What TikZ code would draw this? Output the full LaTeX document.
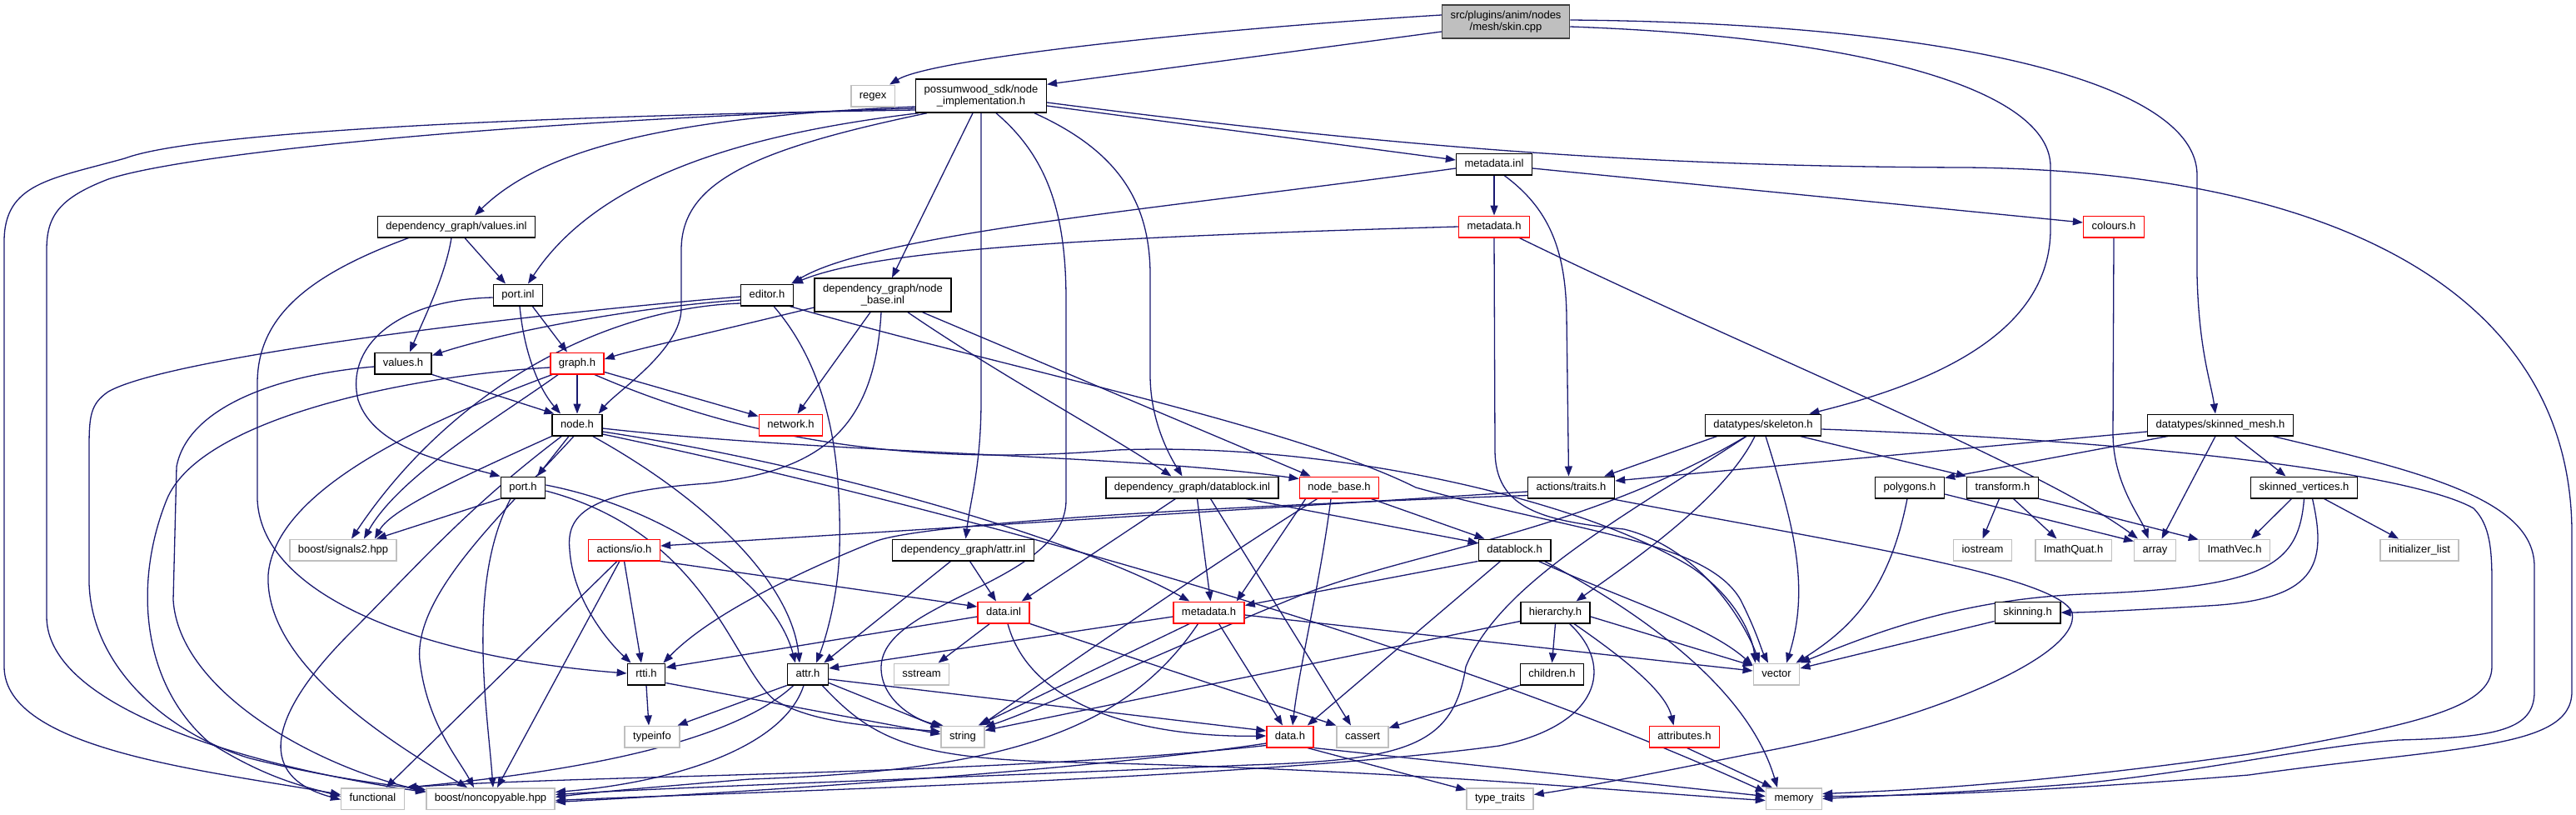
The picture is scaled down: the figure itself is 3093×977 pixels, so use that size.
\documentclass[tikz,border=0pt]{standalone}
\usepackage{fontspec}
\newfontfamily\dfont{Liberation Sans}
\usetikzlibrary{arrows.meta,calc}
\definecolor{edgec}{HTML}{191970}
\definecolor{grayb}{HTML}{BFBFBF}
\definecolor{skinb}{HTML}{404040}
\pgfdeclarelayer{bg}
\pgfsetlayers{bg,main}
\begin{document}
\begin{tikzpicture}[x=1pt,y=1pt,
 nb/.style={rectangle, fill=white, line width=1.5pt, inner xsep=10pt, inner ysep=0pt, font=\dfont\fontsize{13pt}{14.4pt}\selectfont},
 one/.style={nb, minimum height=25.5pt, text height=9.6pt, text depth=2.8pt},
 two/.style={nb, minimum height=40pt, align=center},
 bk/.style={one, draw=black},
 rd/.style={one, draw=red},
 gr/.style={one, draw=grayb},
 bk2/.style={two, draw=black},
 e/.style={draw=edgec, line width=1.3pt, -{Triangle[length=12pt,width=9pt]}}
]
\useasboundingbox (0,0) rectangle (3093,-977);
\node[two, draw=skinb, fill=grayb] (skin) at (1808,-26) {src/plugins/anim/nodes\\/mesh/skin.cpp};
\node[gr] (regex) at (1048,-115) {regex};
\node[bk2] (pw) at (1178,-115) {possumwood\_sdk/node\\\_implementation.h};
\node[bk] (mdinl) at (1794,-197) {metadata.inl};
\node[rd] (mdh) at (1794,-272) {metadata.h};
\node[rd] (colours) at (2538,-272) {colours.h};
\node[bk] (valinl) at (548,-272) {dependency\_graph/values.inl};
\node[bk] (portinl) at (622,-354) {port.inl};
\node[bk] (editor) at (921,-354) {editor.h};
\node[bk2] (nbinl) at (1060,-354) {dependency\_graph/node\\\_base.inl};
\node[bk] (valh) at (484,-436) {values.h};
\node[rd] (graph) at (693,-436) {graph.h};
\node[rd] (network) at (949.5,-510) {network.h};
\node[bk] (node) at (693,-510) {node.h};
\node[bk] (skel) at (2117,-510) {datatypes/skeleton.h};
\node[bk] (smesh) at (2666,-510) {datatypes/skinned\_mesh.h};
\node[bk] (porth) at (628,-585) {port.h};
\node[bk] (dbinl) at (1431.5,-585) {dependency\_graph/datablock.inl};
\node[rd] (nbh) at (1608,-585) {node\_base.h};
\node[bk] (traits) at (1886.5,-585) {actions/traits.h};
\node[bk] (poly) at (2293,-585) {polygons.h};
\node[bk] (transf) at (2404.5,-585) {transform.h};
\node[bk] (svert) at (2766.5,-585) {skinned\_vertices.h};
\node[gr] (sig) at (412,-660) {boost/signals2.hpp};
\node[rd] (io) at (749.5,-660) {actions/io.h};
\node[bk] (attrinl) at (1156.5,-660) {dependency\_graph/attr.inl};
\node[bk] (dbh) at (1818.5,-660) {datablock.h};
\node[gr] (iostream) at (2380.5,-660) {iostream};
\node[gr] (quat) at (2489.5,-660) {ImathQuat.h};
\node[gr] (array) at (2587.5,-660) {array};
\node[gr] (vec) at (2683,-660) {ImathVec.h};
\node[gr] (initl) at (2905,-660) {initializer\_list};
\node[rd] (datainl) at (1205,-735) {data.inl};
\node[rd] (mdh2) at (1451.5,-735) {metadata.h};
\node[bk] (hier) at (1867.5,-735) {hierarchy.h};
\node[bk] (skinning) at (2434.5,-735) {skinning.h};
\node[bk] (rtti) at (776,-809) {rtti.h};
\node[bk] (attrh) at (970,-809) {attr.h};
\node[gr] (sstream) at (1106.5,-809) {sstream};
\node[bk] (children) at (1863.5,-809) {children.h};
\node[gr] (vector) at (2133,-809) {vector};
\node[gr] (typeinfo) at (783,-884) {typeinfo};
\node[gr] (string) at (1156,-884) {string};
\node[rd] (datah) at (1549,-884) {data.h};
\node[gr] (cassert) at (1636,-884) {cassert};
\node[rd] (attribs) at (2022.5,-884) {attributes.h};
\node[gr] (func) at (447.5,-958.5) {functional};
\node[gr] (noncp) at (589,-958.5) {boost/noncopyable.hpp};
\node[gr] (ttraits) at (1801,-958.5) {type\_traits};
\node[gr] (memory) at (2154,-958.5) {memory};

\begin{pgfonlayer}{bg}
% skin.cpp
\draw[e] ($(skin.west)+(0,8)$) .. controls (1450,-35) and (1120,-70) .. ($(regex.north east)+(-7,0)$);
\draw[e] ($(skin.west)+(0,-12)$) -- ($(pw.north east)+(0,-7)$);
\draw[e] ($(skin.east)+(0,-6)$) .. controls (2250,-45) and (2462,-110) .. (2462,-200) -- (2462,-275) .. controls (2462,-400) and (2320,-460) .. ($(skel.north east)+(-15,0)$);
\draw[e] ($(skin.east)+(0,2)$) .. controls (2350,-28) and (2638,-100) .. (2638,-210) -- (2638,-330) .. controls (2640,-420) and (2655,-460) .. ($(smesh.north)+(-6,0)$);
% possumwood
\draw[e] ($(pw.east)+(0,-12)$) -- ($(mdinl.west)+(0,5)$);
\draw[e] ($(pw.east)+(0,-8)$) .. controls (1700,-180) and (2000,-200) .. (2360,-201) .. controls (2800,-205) and (3088,-350) .. (3088,-640) -- (3088,-830) .. controls (3088,-900) and (2950,-895) .. (2700,-930) .. controls (2450,-950) and (2300,-955) .. ($(memory.east)+(0,3)$);
\draw[e] ($(pw.west)+(0,-17)$) .. controls (600,-140) and (230,-160) .. (150,-190) .. controls (60,-215) and (5,-220) .. (5,-290) -- (5,-800) .. controls (5,-900) and (250,-925) .. ($(func.west)+(0,5)$);
\draw[e] ($(pw.west)+(0,-15)$) .. controls (600,-145) and (220,-185) .. (130,-215) .. controls (70,-238) and (56,-260) .. (56,-300) -- (56,-740) .. controls (56,-850) and (300,-920) .. ($(noncp.west)+(0,8)$);
\draw[e] ($(pw.west)+(0,-13)$) .. controls (800,-140) and (650,-180) .. ($(valinl.north)+(22,0)$);
\draw[e] ($(pw.south west)+(4,0)$) .. controls (900,-160) and (720,-210) .. ($(portinl.north)+(12,0)$);
\draw[e] ($(pw.south west)+(14,0)$) .. controls (900,-180) and (818,-220) .. (818,-300) -- (818,-370) .. controls (818,-420) and (740,-470) .. ($(node.north east)+(-5,0)$);
\draw[e] ($(pw.south)+(-10,0)$) -- ($(nbinl.north)+(11,0)$);
\draw[e] (pw.south) -- (1178,-480) .. controls (1178,-560) and (1165,-600) .. ($(attrinl.north)+(3,0)$);
\draw[e] ($(pw.south)+(18,0)$) .. controls (1260,-190) and (1280,-260) .. (1280,-360) -- (1280,-600) .. controls (1280,-700) and (1060,-720) .. (1058,-800) .. controls (1057,-840) and (1100,-865) .. ($(string.north west)+(3,0)$);
\draw[e] ($(pw.south east)+(-15,0)$) .. controls (1340,-180) and (1381,-240) .. (1381,-330) -- (1381,-450) .. controls (1381,-500) and (1400,-540) .. ($(dbinl.north)+(-12,0)$);
% metadata.inl
\draw[e] (mdinl.south) -- (mdh.north);
\draw[e] ($(mdinl.west)+(0,-5)$) .. controls (1400,-250) and (1050,-280) .. ($(editor.north east)+(-3,0)$);
\draw[e] ($(mdinl.east)+(0,-5)$) -- ($(colours.west)+(0,5)$);
\draw[e] ($(mdinl.south)+(12,0)$) .. controls (1860,-250) and (1880,-300) .. (1881,-380) -- ($(traits.north)+(-3,0)$);
% metadata.h
\draw[e] (mdh.west) .. controls (1300,-285) and (1050,-300) .. ($(editor.north east)+(-1,0)$);
\draw[e] (mdh.south) -- (1795,-540) .. controls (1795,-610) and (1850,-625) .. (1950,-635) .. controls (2050,-660) and (2100,-760) .. ($(vector.north west)+(8,0)$);
\draw[e] ($(mdh.south east)+(-13,0)$) .. controls (2100,-420) and (2450,-560) .. ($(array.north west)+(5,0)$);
\draw[e] (colours.south) -- (2537,-520) .. controls (2537,-580) and (2570,-620) .. ($(array.north)+(-8,0)$);
% values.inl
\draw[e] ($(valinl.south)+(10,0)$) -- ($(portinl.north)+(-15,0)$);
\draw[e] ($(valinl.south)+(-6,0)$) .. controls (535,-330) and (510,-380) .. ($(valh.north)+(8,0)$);
\draw[e] ($(valinl.south west)+(38,0)$) .. controls (370,-330) and (309,-380) .. (309,-460) -- (309,-600) .. controls (315,-720) and (520,-790) .. ($(rtti.west)+(0,1)$);
% port.inl
\draw[e] ($(portinl.west)+(0,-3)$) .. controls (470,-360) and (415,-420) .. (430,-480) .. controls (450,-540) and (540,-555) .. (porth.north west);
\draw[e] ($(portinl.south)+(2,0)$) .. controls (630,-430) and (650,-470) .. ($(node.north)+(-20,0)$);
\draw[e] ($(portinl.south east)+(-13,0)$) -- ($(graph.north)+(-12,0)$);
% editor.h
\draw[e] ($(editor.west)+(0,-6)$) .. controls (750,-370) and (600,-400) .. ($(valh.north east)+(0,-4)$);
\draw[e] ($(editor.west)+(0,-2)$) .. controls (600,-380) and (200,-430) .. (130,-470) .. controls (108,-485) and (107,-500) .. (107,-540) -- (107,-700) .. controls (110,-800) and (200,-880) .. (300,-910) .. controls (400,-935) and (470,-942) .. ($(noncp.west)+(0,11)$);
\draw[e] ($(editor.west)+(0,-10)$) .. controls (720,-370) and (540,-470) .. ($(sig.north)+(10,0)$);
\draw[e] ($(editor.south)+(8,0)$) .. controls (1000,-450) and (1010,-560) .. (1008,-660) .. controls (1006,-720) and (990,-770) .. ($(attrh.north)+(10,0)$);
\draw[e] ($(editor.south east)+(-5,0)$) .. controls (1200,-440) and (1550,-510) .. (1700,-585) .. controls (1900,-640) and (2050,-650) .. (2090,-720) .. controls (2110,-760) and (2115,-780) .. ($(vector.north)+(-10,0)$);
% node_base.inl
\draw[e] ($(nbinl.west)+(0,-15)$) .. controls (850,-400) and (760,-420) .. ($(graph.east)+(0,5)$);
\draw[e] ($(nbinl.south)+(-15,0)$) -- ($(network.north)+(8,0)$);
\draw[e] ($(nbinl.south)+(-2,0)$) .. controls (1050,-520) and (980,-565) .. (850,-580) .. controls (700,-590) and (680,-620) .. (684,-660) .. controls (688,-720) and (730,-770) .. ($(rtti.north west)+(5,0)$);
\draw[e] ($(nbinl.south)+(30,0)$) .. controls (1200,-450) and (1330,-520) .. ($(dbinl.north)+(-25,0)$);
\draw[e] ($(nbinl.south east)+(-35,0)$) -- ($(nbh.north west)+(14,0)$);
% values.h
\draw[e] (valh.south east) -- ($(node.north west)+(3,0)$);
\draw[e] ($(valh.west)+(0,-4)$) .. controls (330,-450) and (225,-490) .. (212,-560) -- (208,-720) .. controls (215,-830) and (380,-920) .. ($(noncp.west)+(0,9)$);
% graph.h
\draw[e] (graph.south) -- (node.north);
\draw[e] ($(graph.south east)+(0,3)$) -- ($(network.north west)+(0,-3)$);
\draw[e] ($(graph.south west)+(10,0)$) .. controls (600,-500) and (480,-570) .. ($(sig.north)+(25,0)$);
\draw[e] ($(graph.west)+(0,-5)$) .. controls (500,-450) and (240,-500) .. (200,-600) .. controls (160,-700) and (170,-820) .. (250,-890) .. controls (320,-935) and (370,-945) .. ($(func.west)+(0,3)$);
\draw[e] ($(graph.south west)+(3,0)$) .. controls (500,-510) and (330,-590) .. (322,-690) .. controls (318,-790) and (450,-880) .. ($(noncp.north)+(-28,0)$);
\draw[e] ($(graph.south east)+(-12,0)$) .. controls (900,-530) and (1100,-560) .. (1341,-540) .. controls (1600,-530) and (1900,-600) .. (2030,-680) .. controls (2090,-720) and (2105,-770) .. ($(vector.north west)+(3,0)$);
% node.h
\draw[e] ($(node.south)+(-10,0)$) -- ($(porth.north)+(17,0)$);
\draw[e] (node.south west) .. controls (560,-570) and (470,-610) .. ($(sig.north)+(38,0)$);
\draw[e] ($(node.south west)+(12,0)$) .. controls (560,-610) and (500,-680) .. (420,-760) .. controls (330,-850) and (300,-930) .. ($(func.west)+(0,-1)$);
\draw[e] ($(node.south)+(-4,0)$) .. controls (600,-620) and (490,-720) .. (505,-800) .. controls (515,-870) and (550,-910) .. ($(noncp.north)+(-20,0)$);
\draw[e] ($(node.south east)+(-12,0)$) .. controls (850,-600) and (950,-700) .. ($(attrh.north)+(-10,0)$);
\draw[e] ($(node.east)+(0,-4)$) .. controls (1000,-545) and (1350,-545) .. ($(nbh.north west)+(0,-3)$);
\draw[e] ($(node.east)+(0,-8)$) .. controls (1000,-560) and (1300,-650) .. ($(mdh2.north west)+(20,0)$);
\draw[e] ($(node.east)+(0,-11)$) .. controls (1100,-600) and (1700,-760) .. ($(memory.west)+(0,8)$);
% port.h
\draw[e] (porth.south west) -- ($(sig.north east)+(-25,0)$);
\draw[e] ($(porth.south)+(-15,0)$) .. controls (560,-700) and (585,-850) .. ($(noncp.north)+(3,0)$);
\draw[e] ($(porth.east)+(0,3)$) .. controls (800,-610) and (930,-700) .. ($(attrh.north)+(-15,0)$);
\draw[e] ($(porth.east)+(0,-4)$) .. controls (850,-640) and (880,-800) .. (930,-840) .. controls (980,-870) and (1060,-872) .. ($(string.west)+(0,6)$);
% datablock.inl
\draw[e] ($(dbinl.south)+(-20,0)$) -- ($(datainl.north east)+(-10,0)$);
\draw[e] ($(dbinl.south)+(6,0)$) -- ($(mdh2.north)+(2,0)$);
\draw[e] ($(dbinl.south)+(22,0)$) -- ($(cassert.north)+(-14,0)$);
\draw[e] ($(dbinl.south east)+(-40,0)$) -- ($(dbh.north west)+(0,-5)$);
% node_base.h
\draw[e] ($(nbh.south west)+(22,0)$) .. controls (1450,-680) and (1250,-820) .. ($(string.north east)+(-5,0)$);
\draw[e] ($(nbh.south west)+(8,0)$) -- ($(mdh2.north east)+(-10,0)$);
\draw[e] ($(nbh.south)+(-10,0)$) .. controls (1585,-700) and (1560,-800) .. ($(datah.north)+(3,0)$);
\draw[e] ($(nbh.south east)+(-10,0)$) -- ($(dbh.north west)+(8,0)$);
% actions/traits.h
\draw[e] ($(traits.west)+(0,-5)$) -- ($(io.east)+(0,5)$);
\draw[e] ($(traits.south west)+(0,4)$) .. controls (1400,-610) and (1100,-630) .. (1050,-650) .. controls (950,-690) and (850,-740) .. ($(rtti.north east)+(-3,0)$);
\draw[e] ($(traits.south east)+(-5,0)$) .. controls (2200,-650) and (2470,-690) .. (2488,-735) .. controls (2500,-790) and (2300,-870) .. (2100,-905) .. controls (2000,-925) and (1900,-945) .. ($(ttraits.east)+(0,5)$);
% skeleton.h
\draw[e] ($(skel.south west)+(15,0)$) -- ($(traits.north east)+(-13,0)$);
\draw[e] ($(skel.south east)+(-26,0)$) -- (transf.north west);
\draw[e] ($(skel.south)+(-10,0)$) .. controls (2070,-600) and (1950,-680) .. ($(hier.north)+(25,0)$);
\draw[e] ($(skel.south)+(3,0)$) .. controls (2150,-620) and (2175,-700) .. ($(vector.north)+(12,0)$);
\draw[e] ($(skel.east)+(0,-5)$) .. controls (2600,-530) and (2900,-570) .. (2970,-610) .. controls (2990,-630) and (2992,-660) .. (2992,-700) -- (2992,-800) .. controls (2992,-850) and (2900,-870) .. (2700,-905) .. controls (2450,-940) and (2300,-948) .. ($(memory.east)+(0,6)$);
\draw[e] ($(skel.south west)+(50,0)$) .. controls (1900,-640) and (1700,-660) .. (1560,-715) .. controls (1400,-780) and (1250,-850) .. ($(string.north east)+(0,-2)$);
\draw[e] ($(skel.south)+(-20,0)$) .. controls (1950,-620) and (1800,-700) .. (1760,-800) .. controls (1745,-895) and (1690,-912) .. (1500,-918) .. controls (1100,-935) and (800,-945) .. ($(noncp.east)+(0,5)$);
% skinned_mesh.h
\draw[e] ($(smesh.west)+(0,-8)$) -- ($(traits.east)+(0,8)$);
\draw[e] ($(smesh.south west)+(25,0)$) -- ($(poly.north east)+(0,-2)$);
\draw[e] ($(smesh.south)+(-6,0)$) -- ($(array.north)+(8,0)$);
\draw[e] ($(smesh.south)+(17,0)$) -- ($(svert.north)+(-22,0)$);
\draw[e] ($(smesh.south east)+(-25,0)$) .. controls (2912,-567) and (3043,-600) .. (3043,-680) -- (3043,-830) .. controls (3043,-875) and (3000,-885) .. (2880,-888) .. controls (2780,-895) and (2650,-925) .. (2500,-940) .. controls (2350,-952) and (2250,-955) .. (memory.east);
% polygons.h
\draw[e] ($(poly.south)+(-3,0)$) .. controls (2270,-700) and (2230,-750) .. ($(vector.north east)+(-5,0)$);
\draw[e] ($(poly.east)+(0,-8)$) -- ($(array.north west)+(0,-3)$);
% transform.h
\draw[e] ($(transf.south)+(-4,0)$) -- (iostream.north);
\draw[e] ($(transf.south)+(13,0)$) -- ($(quat.north)+(-20,0)$);
\draw[e] (transf.south east) -- ($(vec.north west)+(0,-1)$);
% skinned_vertices.h
\draw[e] ($(svert.south)+(-15,0)$) -- ($(vec.north)+(20,0)$);
\draw[e] ($(svert.south)+(24,0)$) -- ($(initl.north)+(-25,0)$);
\draw[e] (svert.south) .. controls (2760,-680) and (2720,-705) .. (2500,-713) .. controls (2350,-720) and (2250,-760) .. (vector.north east);
\draw[e] ($(svert.south)+(10,0)$) .. controls (2795,-680) and (2780,-720) .. (2650,-727) .. controls (2550,-733) and (2500,-735) .. (skinning.east);
\draw[e] ($(skinning.south west)+(0,3)$) -- ($(vector.east)+(0,7)$);
% actions/io.h
\draw[e] (io.south) -- ($(rtti.north)+(-6,0)$);
\draw[e] ($(io.south west)+(35,0)$) -- ($(func.north)+(16,0)$);
\draw[e] ($(io.south west)+(38,0)$) -- ($(noncp.north)+(8,0)$);
\draw[e] (io.south east) -- ($(datainl.west)+(0,7)$);
% attr.inl
\draw[e] ($(attrinl.south)+(8,0)$) -- ($(datainl.north)+(-9,0)$);
\draw[e] ($(attrinl.south)+(-15,0)$) -- ($(attrh.north east)+(-6,0)$);
% datablock.h
\draw[e] (dbh.south west) -- ($(mdh2.north east)+(0,-5)$);
\draw[e] ($(dbh.south)+(-17,0)$) -- ($(datah.north east)+(-8,0)$);
\draw[e] ($(dbh.south east)+(-15,0)$) .. controls (1950,-720) and (2050,-750) .. ($(vector.north west)+(0,-3)$);
\draw[e] ($(dbh.south east)+(-8,0)$) .. controls (1980,-740) and (2100,-830) .. ($(memory.north)+(-20,0)$);
% data.inl
\draw[e] ($(datainl.west)+(0,-5)$) -- ($(rtti.east)+(0,8)$);
\draw[e] ($(datainl.south west)+(15,0)$) -- ($(sstream.north)+(20,0)$);
\draw[e] ($(datainl.south)+(5,0)$) .. controls (1240,-860) and (1400,-885) .. ($(datah.west)+(0,1)$);
\draw[e] (datainl.south east) -- (cassert.north west);
% metadata.h (2)
\draw[e] ($(mdh2.west)+(0,-5)$) -- ($(attrh.east)+(0,7)$);
\draw[e] ($(mdh2.south west)+(20,0)$) -- ($(string.north east)+(-8,0)$);
\draw[e] ($(mdh2.south)+(-13,0)$) .. controls (1350,-880) and (1200,-925) .. (900,-935) .. controls (780,-945) and (720,-950) .. ($(noncp.east)+(0,2)$);
\draw[e] ($(mdh2.south)+(12,0)$) -- ($(datah.north)+(-9,0)$);
\draw[e] ($(mdh2.east)+(0,-3)$) -- ($(vector.west)+(0,4)$);
% hierarchy.h
\draw[e] (hier.south) -- (children.north);
\draw[e] ($(hier.south east)+(-20,0)$) .. controls (1950,-790) and (2000,-830) .. ($(attribs.north)+(-13,0)$);
\draw[e] ($(hier.east)+(0,-5)$) -- ($(vector.west)+(0,10)$);
\draw[e] ($(hier.south west)+(0,3)$) -- ($(string.north east)+(0,-6)$);
\draw[e] ($(hier.south)+(17,0)$) .. controls (1940,-800) and (1920,-870) .. (1800,-895) .. controls (1500,-935) and (900,-950) .. ($(noncp.east)+(0,-2)$);
% rtti.h
\draw[e] (rtti.south) -- ($(typeinfo.north)+(-4,0)$);
\draw[e] ($(rtti.south east)+(0,3)$) -- ($(string.west)+(0,3)$);
% attr.h
\draw[e] (attrh.south west) -- ($(typeinfo.north east)+(-3,0)$);
\draw[e] ($(attrh.south east)+(0,3)$) -- ($(string.north west)+(0,-3)$);
\draw[e] ($(attrh.east)+(0,-6)$) -- ($(datah.west)+(0,7)$);
\draw[e] ($(attrh.south west)+(8,0)$) .. controls (880,-890) and (700,-925) .. ($(func.north east)+(2,0)$);
\draw[e] ($(attrh.south)+(-5,0)$) .. controls (940,-900) and (800,-940) .. ($(noncp.east)+(0,8)$);
\draw[e] ($(attrh.south east)+(-8,0)$) .. controls (1050,-890) and (1100,-912) .. (1300,-915) .. controls (1700,-925) and (1950,-950) .. ($(memory.west)+(0,-2)$);
% children.h, attributes.h
\draw[e] (children.south west) -- ($(cassert.north east)+(0,-3)$);
\draw[e] ($(attribs.south)+(3,0)$) -- ($(memory.north west)+(8,0)$);
% data.h
\draw[e] ($(datah.west)+(0,-8)$) .. controls (1300,-925) and (900,-950) .. ($(noncp.east)+(0,-4)$);
\draw[e] ($(datah.south west)+(0,3)$) .. controls (1200,-930) and (700,-930) .. ($(func.north east)+(2,0)$);
\draw[e] ($(datah.south east)+(-8,0)$) -- ($(ttraits.north west)+(0,-3)$);
\draw[e] (datah.south east) -- ($(memory.west)+(0,3)$);
\end{pgfonlayer}
\end{tikzpicture}
\end{document}
